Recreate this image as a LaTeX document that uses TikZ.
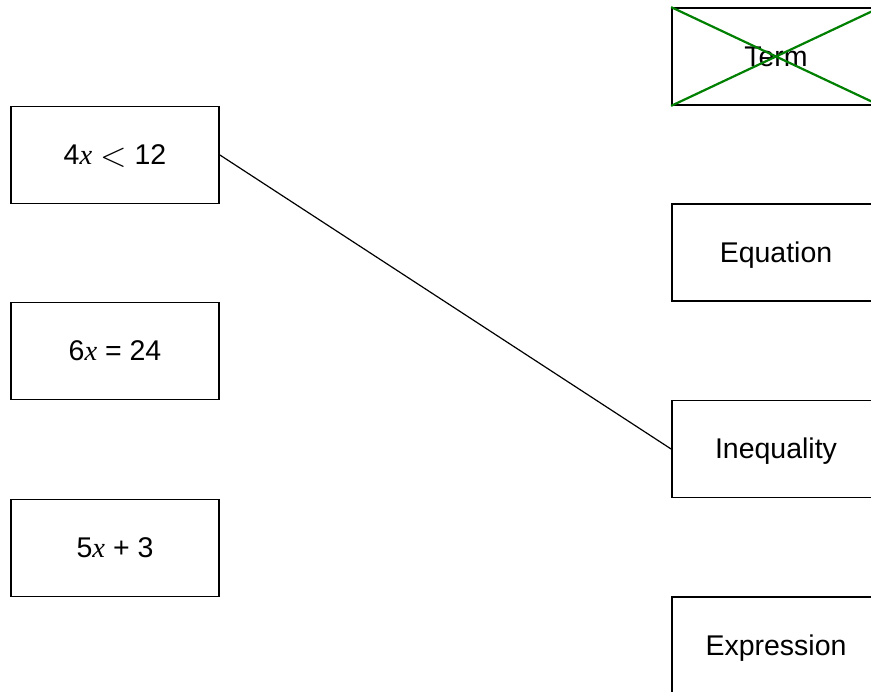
\documentclass[tikz,border=0pt]{standalone}
\usepackage{fontspec}
\usepackage{graphicx}
\setmainfont{Liberation Sans}
\newfontfamily\mathserif{Liberation Serif}
\newcommand{\vx}{{\mathserif\itshape x}}
\newcommand{\bigless}{\raisebox{-2pt}{\scalebox{1.4}{$<$}}}
\begin{document}
\begin{tikzpicture}[x=1pt,y=-1pt,
  card/.style={draw=black,line width=1.8pt,minimum width=208pt,minimum height=97pt,inner sep=0pt,text height=22pt,text depth=2pt,font=\fontsize{28.5pt}{31pt}\selectfont},
  link/.style={draw=black,line width=1.2pt},
  cross/.style={draw=green!50!black,line width=2.2pt}]
\useasboundingbox (0,0) rectangle (871,692);
\clip (0,0) rectangle (871,692);
\fill[white] (0,0) rectangle (871,692);
\node[card] (l1) at (115,155) {4\vx\ \bigless\ 12};
\node[card] (l2) at (115,351) {6\vx\ = 24};
\node[card] (l3) at (115,548) {5\vx\ + 3};
\node[card] (r1) at (776,56.5) {Term};
\node[card] (r2) at (776,252.5) {Equation};
\node[card] (r3) at (776,449) {Inequality};
\node[card] (r4) at (776,645.5) {Expression};
\draw[cross] (r1.north west) -- (r1.south east);
\draw[cross] (r1.south west) -- (r1.north east);
\draw[link] (l1.east) -- (r3.west);
\end{tikzpicture}
\end{document}
